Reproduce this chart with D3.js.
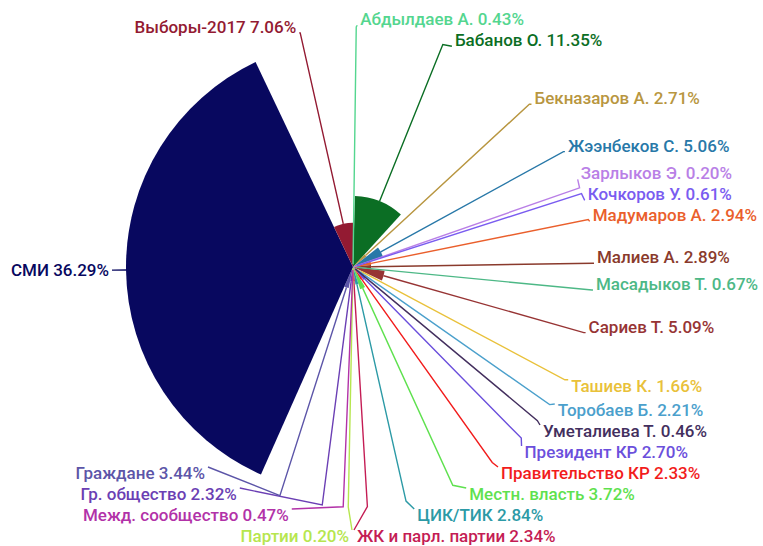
<!DOCTYPE html>
<html>
<head>
<meta charset="utf-8">
<script src="https://cdn.jsdelivr.net/npm/d3@7/dist/d3.min.js"></script>
<style>
  html, body { margin: 0; padding: 0; background: #fff; }
  svg { display: block; }
  text { font-family: Roboto, "Noto Sans", sans-serif; font-size: 17px; font-weight: 500; }
</style>
</head>
<body>
<svg width="763" height="546"></svg>
<script>
// categories, in drawing order (clockwise from 12 o'clock)
const names = [
  "Абдылдаев А.", "Бабанов О.", "Бекназаров А.", "Жээнбеков С.", "Зарлыков Э.",
  "Кочкоров У.", "Мадумаров А.", "Малиев А.", "Масадыков Т.", "Сариев Т.",
  "Ташиев К.", "Торобаев Б.", "Уметалиева Т.", "Президент КР", "Правительство КР",
  "Местн. власть", "ЦИК/ТИК", "ЖК и парл. партии", "Партии", "Межд. сообщество",
  "Гр. общество", "Граждане", "СМИ", "Выборы-2017"
];
// share, %
const shares = [
  0.43, 11.35, 2.71, 5.06, 0.20,
  0.61, 2.94, 2.89, 0.67, 5.09,
  1.66, 2.21, 0.46, 2.70, 2.33,
  3.72, 2.84, 2.34, 0.20, 0.47,
  2.32, 3.44, 36.29, 7.06
];
const colors = [
  "#54d68f", "#0b6e24", "#b89640", "#2878a8", "#b97fe6",
  "#7a5cf0", "#ea5f2c", "#8a3a2c", "#4db886", "#973434",
  "#e9c13a", "#4ba0cc", "#432f5e", "#6b4fdc", "#f21c1c",
  "#5fe14f", "#2c9aa6", "#c41c54", "#b6e64e", "#b232a8",
  "#6b3fb4", "#5c55a8", "#08085f", "#931a32"
];

const cx = 353, cy = 267;
const maxR = 227;       // radius of the biggest slice
const lineR = 240;      // where the leader line leaves the ray
const gap = 21;         // min vertical distance between labels
const rBottom = 250;

const svg = d3.select("svg");
const g = svg.append("g").attr("transform", `translate(${cx},${cy})`);

const data = names.map((n, i) => ({ name: n, value: shares[i], color: colors[i] }));

const rScale = d3.scaleLinear().domain([0, d3.max(shares)]).range([0, maxR]);
const pie = d3.pie().sort(null).value(d => d.value);
const arcs = pie(data);

const arc = d3.arc().innerRadius(0).outerRadius(d => rScale(d.data.value));

g.selectAll("path.slice")
  .data(arcs)
  .enter()
  .append("path")
  .attr("class", "slice")
  .attr("d", arc)
  .attr("fill", d => d.data.color);

// label layout
const items = arcs.map(d => {
  const mid = (d.startAngle + d.endAngle) / 2;
  const dir = [Math.sin(mid), -Math.cos(mid)];
  const side = dir[0] >= 0 ? 1 : -1;
  const k = dir[1] > 0.4 ? 6 : (side < 0 && Math.abs(dir[1]) < 0.2 ? 0 : -6);
  return {
    d, dir, side, k,
    p0: [dir[0] * rScale(d.data.value), dir[1] * rScale(d.data.value)],
    p1: [dir[0] * lineR, dir[1] * lineR],
    y0: dir[1] * lineR,
    y: dir[1] * lineR
  };
});

const minY = 10 - cy, maxY = 530 - cy;
[1, -1].forEach(side => {
  const list = items.filter(it => it.side === side).sort((a, b) => a.y - b.y);
  // push down, collect clusters
  const clusters = [[list[0]]];
  for (let i = 1; i < list.length; i++) {
    if (list[i].y < list[i - 1].y + gap) {
      list[i].y = list[i - 1].y + gap;
      clusters[clusters.length - 1].push(list[i]);
    } else {
      clusters.push([list[i]]);
    }
  }
  // balance free clusters around their wanted place
  clusters.forEach(c => {
    if (c.length < 2 || c[c.length - 1].y > maxY - gap) return;
    const shift = d3.mean(c, it => it.y - it.y0);
    c.forEach(it => { it.y -= shift; });
  });
  const last = list.length - 1;
  if (list[last].y > maxY) {
    list[last].y = maxY;
    for (let i = last - 1; i >= 0; i--) list[i].y = Math.min(list[i].y, list[i + 1].y - gap);
  }
  if (list[0].y < minY) {
    list[0].y = minY;
    for (let i = 1; i < list.length; i++) list[i].y = Math.max(list[i].y, list[i - 1].y + gap);
  }

  // x of each label on an ellipse, per half
  const top = list.filter(it => it.y < 0);
  const bottom = list.filter(it => it.y >= 0);
  let rTop = lineR;
  if (top.length) {
    const far = top.reduce((a, b) => (Math.abs(b.y) > Math.abs(a.y) ? b : a));
    const dx0 = Math.abs(far.p1[0]);
    rTop = Math.abs(far.y) / Math.sqrt(1 - (dx0 * dx0) / (lineR * lineR));
  }
  top.forEach(it => { it.dx = Math.sqrt(Math.max(0, 1 - (it.y * it.y) / (rTop * rTop))) * lineR; });
  bottom.forEach(it => { it.dx = Math.sqrt(Math.max(0, 1 - (it.y * it.y) / (rBottom * rBottom))) * lineR; });
});

const line = d3.line();

g.selectAll("path.leader")
  .data(items)
  .enter()
  .append("path")
  .attr("class", "leader")
  .attr("d", it => line([it.p0, it.p1, [it.side * (it.dx + 1), it.y]]))
  .attr("fill", "none")
  .attr("stroke", it => it.d.data.color)
  .attr("stroke-width", 1.4);

g.selectAll("text.label")
  .data(items)
  .enter()
  .append("text")
  .attr("class", "label")
  .attr("x", it => it.side * (it.dx + 4))
  .attr("y", it => it.y + it.k)
  .attr("dy", "0.35em")
  .attr("text-anchor", it => (it.side > 0 ? "start" : "end"))
  .attr("fill", it => it.d.data.color)
  .text(it => `${it.d.data.name} ${it.d.data.value.toFixed(2)}%`);
</script>
</body>
</html>
